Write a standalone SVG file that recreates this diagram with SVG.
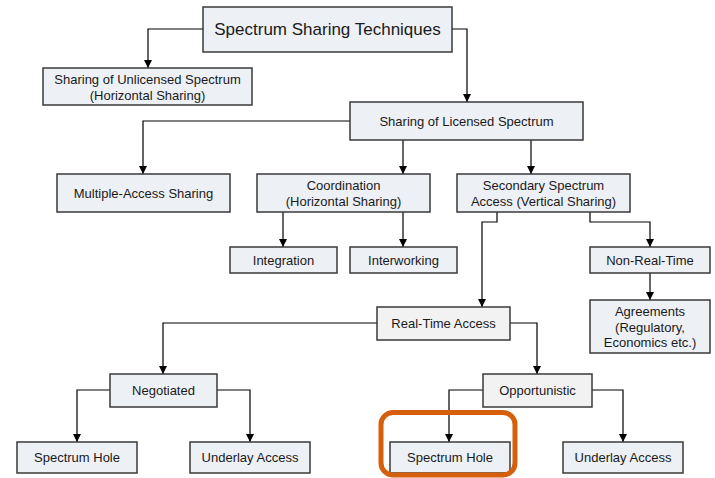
<svg xmlns="http://www.w3.org/2000/svg" width="715" height="478" viewBox="0 0 715 478">
  <defs>
    <marker id="arrow" markerWidth="8" markerHeight="10" refX="8" refY="5" orient="auto" markerUnits="userSpaceOnUse">
      <path d="M0,1 L8,5 L0,9 Z" fill="#000"/>
    </marker>
    <style>
      .box { fill: #edf0f5; stroke: #3a3a3a; stroke-width: 1.5; }
      .box.grey { fill: #f2f2f2; }
      .lbl { font-family: "Liberation Sans", Arial, sans-serif; font-size: 13px; fill: #1a1a1a; text-anchor: middle; }
      .title { font-size: 17px; }
      .wire { fill: none; stroke: #000; stroke-width: 1.2; marker-end: url(#arrow); }
      .mark { fill: none; stroke: #d65f0c; stroke-width: 5; }
    </style>
  </defs>
  <rect width="715" height="478" fill="#fff"/>

  <g id="connectors">
    <path class="wire" d="M203,29 H148 V68"/>
    <path class="wire" d="M452,29 H467 V102"/>
    <path class="wire" d="M350,121 H143 V174"/>
    <path class="wire" d="M403,140 V174"/>
    <path class="wire" d="M531,140 V174"/>
    <path class="wire" d="M283,212 V247"/>
    <path class="wire" d="M403,212 V247"/>
    <path class="wire" d="M497,212 V222 H482 V307"/>
    <path class="wire" d="M590,212 V222 H650 V247"/>
    <path class="wire" d="M650,273 V300"/>
    <path class="wire" d="M377,323 H163 V374"/>
    <path class="wire" d="M510,323 H537 V374"/>
    <path class="wire" d="M110,390 H77 V442"/>
    <path class="wire" d="M217,390 H250 V442"/>
    <path class="wire" d="M483,390 H449 V442"/>
    <path class="wire" d="M592,390 H623 V442"/>
  </g>

  <g id="n-root">
    <rect class="box" x="203" y="7" width="249" height="45"/>
    <text class="lbl title" x="327.5" y="35">Spectrum Sharing Techniques</text>
  </g>
  <g id="n-unlicensed">
    <rect class="box" x="43" y="68" width="209" height="37"/>
    <text class="lbl" x="147.5" y="84">Sharing of Unlicensed Spectrum</text>
    <text class="lbl" x="147.5" y="100">(Horizontal Sharing)</text>
  </g>
  <g id="n-licensed">
    <rect class="box" x="350" y="102" width="233" height="38"/>
    <text class="lbl" x="466.5" y="125.5">Sharing of Licensed Spectrum</text>
  </g>
  <g id="n-multiple">
    <rect class="box" x="57" y="174" width="173" height="38"/>
    <text class="lbl" x="143.5" y="197.5">Multiple-Access Sharing</text>
  </g>
  <g id="n-coordination">
    <rect class="box" x="257" y="174" width="173" height="38"/>
    <text class="lbl" x="343.5" y="190">Coordination</text>
    <text class="lbl" x="343.5" y="206">(Horizontal Sharing)</text>
  </g>
  <g id="n-secondary">
    <rect class="box" x="457" y="174" width="173" height="38"/>
    <text class="lbl" x="543.5" y="190">Secondary Spectrum</text>
    <text class="lbl" x="543.5" y="206">Access (Vertical Sharing)</text>
  </g>
  <g id="n-integration">
    <rect class="box" x="230" y="247" width="107" height="26"/>
    <text class="lbl" x="283.5" y="264.5">Integration</text>
  </g>
  <g id="n-interworking">
    <rect class="box" x="350" y="247" width="107" height="26"/>
    <text class="lbl" x="403.5" y="264.5">Interworking</text>
  </g>
  <g id="n-nonrealtime">
    <rect class="box" x="590" y="247" width="120" height="26"/>
    <text class="lbl" x="650" y="264.5">Non-Real-Time</text>
  </g>
  <g id="n-agreements">
    <rect class="box" x="590" y="300" width="120" height="53"/>
    <text class="lbl" x="650" y="316">Agreements</text>
    <text class="lbl" x="650" y="331.5">(Regulatory,</text>
    <text class="lbl" x="650" y="347">Economics etc.)</text>
  </g>
  <g id="n-realtime">
    <rect class="box grey" x="377" y="307" width="133" height="33"/>
    <text class="lbl" x="443.5" y="328">Real-Time Access</text>
  </g>
  <g id="n-negotiated">
    <rect class="box" x="110" y="374" width="107" height="33"/>
    <text class="lbl" x="163.5" y="395">Negotiated</text>
  </g>
  <g id="n-opportunistic">
    <rect class="box grey" x="483" y="374" width="109" height="33"/>
    <text class="lbl" x="537.5" y="395">Opportunistic</text>
  </g>
  <g id="n-hole-neg">
    <rect class="box" x="17" y="442" width="120" height="31"/>
    <text class="lbl" x="77" y="462">Spectrum Hole</text>
  </g>
  <g id="n-underlay-neg">
    <rect class="box" x="190" y="442" width="120" height="31"/>
    <text class="lbl" x="250" y="462">Underlay Access</text>
  </g>
  <g id="n-hole-opp">
    <rect class="box" x="390" y="442" width="120" height="31"/>
    <text class="lbl" x="450" y="462">Spectrum Hole</text>
  </g>
  <g id="n-underlay-opp">
    <rect class="box" x="563" y="442" width="120" height="31"/>
    <text class="lbl" x="623" y="462">Underlay Access</text>
  </g>

  <!-- emphasis frame round the opportunistic spectrum hole -->
  <rect class="mark" x="381" y="412.5" width="134" height="62.5" rx="12" ry="12"/>
</svg>
